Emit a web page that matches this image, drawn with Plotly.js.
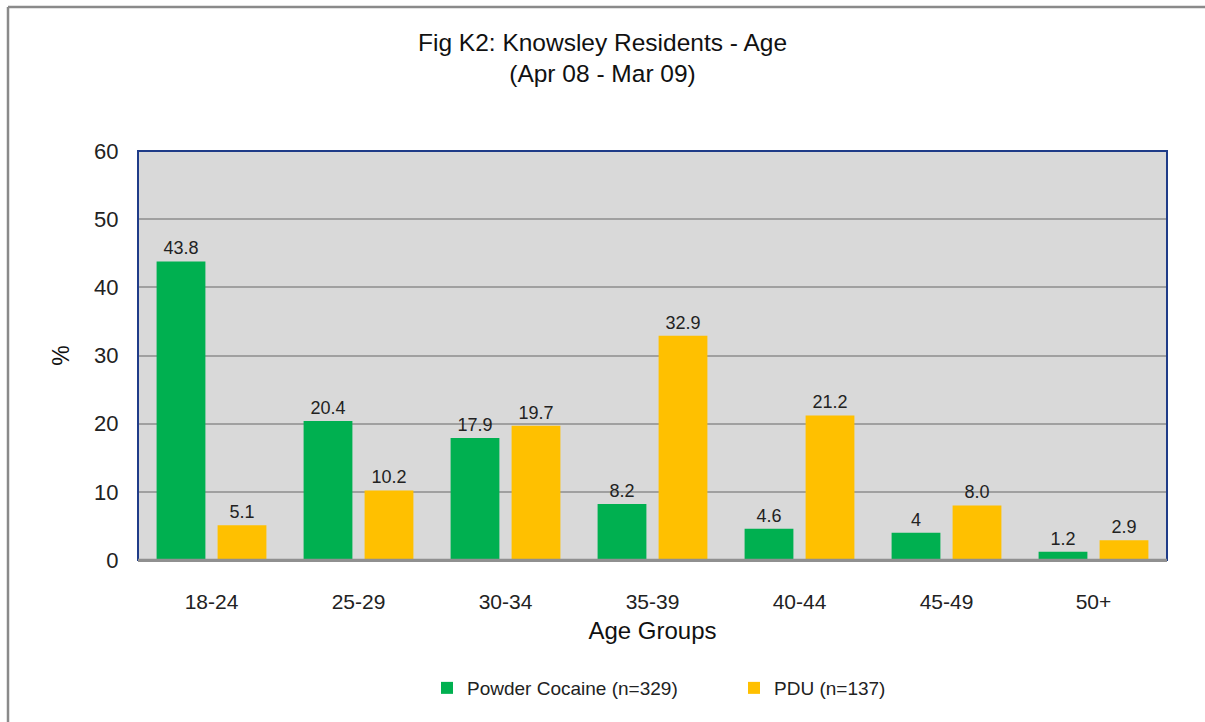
<!DOCTYPE html>
<html>
<head>
<meta charset="utf-8">
<script src="https://cdn.plot.ly/plotly-3.0.1.min.js"></script>
<style>html,body{margin:0;padding:0;background:#fff;}#chart{width:1205px;height:722px;}</style>
</head>
<body>
<div id="chart"></div>
<script>
const categories = ["18-24","25-29","30-34","35-39","40-44","45-49","50+"];
const cocaineValues = [43.8, 20.4, 17.9, 8.2, 4.6, 4, 1.2];
const cocaineLabels = ["43.8","20.4","17.9","8.2","4.6","4","1.2"];
const pduValues = [5.1, 10.2, 19.7, 32.9, 21.2, 8.0, 2.9];
const pduLabels = ["5.1","10.2","19.7","32.9","21.2","8.0","2.9"];
const yTicks = [0,10,20,30,40,50,60];

const font = "Liberation Sans, Arial, sans-serif";

const traces = [
  {type:"bar", name:"Powder Cocaine (n=329)", x:categories, y:cocaineValues, text:cocaineLabels,
   textposition:"outside", cliponaxis:false, textfont:{family:font,size:18,color:"#222"},
   marker:{color:"#00b050"}, hoverinfo:"x+y"},
  {type:"bar", name:"PDU (n=137)", x:categories, y:pduValues, text:pduLabels,
   textposition:"outside", cliponaxis:false, textfont:{family:font,size:18,color:"#222"},
   marker:{color:"#ffc000"}, hoverinfo:"x+y"}
];

const layout = {
  width:1205, height:722,
  paper_bgcolor:"#ffffff", plot_bgcolor:"#d9d9d9",
  margin:{l:138, r:38, t:151, b:162},
  font:{family:font, color:"#222"},
  title:{text:"Fig K2: Knowsley Residents - Age<br>(Apr 08 - Mar 09)", x:0.5, xanchor:"center",
         y:0.93, yanchor:"top", font:{family:font,size:24.5,color:"#111"}},
  barmode:"group", bargap:0.17, bargroupgap:0.2,
  xaxis:{type:"category", tickfont:{size:21,color:"#222"}, showgrid:false, zeroline:false,
         showline:true, linecolor:"#909090", linewidth:2, ticks:"outside", ticklen:22,
         tickcolor:"rgba(0,0,0,0)",
         title:{text:"Age Groups", font:{size:24,color:"#111"}, standoff:10}, mirror:false},
  yaxis:{range:[0,60], tickvals:yTicks, tickfont:{size:22,color:"#222"}, showgrid:true,
         gridcolor:"#a0a0a0", gridwidth:2, zeroline:false, ticks:"outside", ticklen:14,
         tickcolor:"rgba(0,0,0,0)",
         title:{text:"%", font:{size:23,color:"#111"}, standoff:18}},
  showlegend:true,
  legend:{orientation:"h", x:(427-138)/1029, xanchor:"left", y:-0.313, yanchor:"middle",
          font:{size:19,color:"#222"}, entrywidth:262, entrywidthmode:"pixels",
          traceorder:"normal", itemclick:false},
  shapes:[
    {type:"rect", xref:"paper", yref:"paper", x0:0, x1:1, y0:0, y1:1,
     line:{color:"#1f3c88", width:2}, fillcolor:"rgba(0,0,0,0)", layer:"above"},
    {type:"line", xref:"paper", yref:"paper", x0:0, x1:1, y0:0, y1:0,
     line:{color:"#909090", width:2.5}, layer:"above"},
    {type:"line", xref:"paper", yref:"paper", x0:(8-138)/1029, x1:(8-138)/1029, y0:(560-7)/409, y1:(560-730)/409,
     line:{color:"#8a8a8a", width:2.5}},
    {type:"line", xref:"paper", yref:"paper", x0:(8-138)/1029, x1:(1210-138)/1029, y0:(560-7)/409, y1:(560-7)/409,
     line:{color:"#8a8a8a", width:2.5}}
  ]
};

Plotly.newPlot("chart", traces, layout, {displayModeBar:false, staticPlot:true});
</script>
</body>
</html>
